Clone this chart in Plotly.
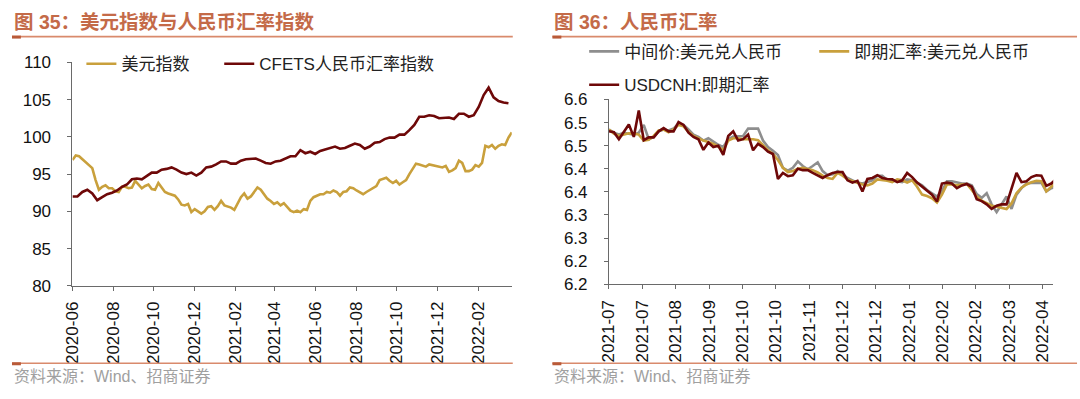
import pandas as pd
import plotly.graph_objects as go

# ---------------- Data: left panel (图35) ----------------
dxy_start, dxy_end = "2020-06-01", "2022-03-23"
dxy_values = [
    96.9, 97.5, 97.4, 97.0, 96.6, 96.3, 95.8, 94.2, 92.9, 93.3,
    93.5, 93.1, 93.1, 92.7, 92.6, 93.3, 93.3, 93.1, 93.2, 94.1,
    93.6, 93.1, 93.4, 93.6, 93.0, 92.9, 93.8, 93.2, 92.6, 92.4,
    92.3, 92.1, 91.6, 90.9, 90.8, 91.0, 89.9, 90.3, 90.0, 89.7,
    90.0, 90.6, 90.7, 90.2, 90.7, 91.4, 90.8, 90.7, 90.5, 90.2,
    91.0, 91.9, 92.4, 91.7, 92.0, 92.6, 93.2, 92.9, 92.3, 91.7,
    91.4, 91.0, 91.2, 90.8, 91.1, 90.6, 90.1, 89.9, 90.1, 89.9,
    90.3, 90.2, 91.4, 91.9, 92.1, 92.3, 92.3, 92.6, 92.5, 92.8,
    92.6, 92.1, 92.6, 92.7, 93.2, 93.1, 92.8, 92.5, 92.3, 92.6,
    92.9, 93.2, 93.4, 94.2, 94.3, 94.5, 94.1, 93.8, 94.1, 93.6,
    93.9, 94.2, 95.0, 95.8, 96.4, 96.3, 96.1, 96.0, 96.3, 96.2,
    96.2, 96.1, 95.9, 96.1, 95.3, 95.5, 95.8, 96.8, 96.5, 95.4,
    95.4, 95.6, 96.2, 96.0, 96.5, 98.8, 98.6, 98.9, 98.4, 98.8,
    99.0, 98.9, 99.9, 100.6,
]
cfets_start, cfets_end = "2020-06-01", "2022-03-18"
cfets_values = [
    92.0, 92.0, 92.6, 92.9, 92.4, 91.5, 91.9, 92.3, 92.5, 92.8,
    93.3, 93.6, 94.3, 94.4, 94.3, 94.7, 95.2, 95.2, 95.6, 95.7,
    95.9, 95.6, 95.2, 95.0, 95.2, 94.8, 95.2, 95.9, 96.0, 96.3,
    96.7, 96.7, 96.4, 96.4, 96.8, 97.0, 97.0, 97.1, 96.8, 96.5,
    96.4, 96.7, 96.8, 97.1, 97.4, 97.4, 98.2, 97.8, 98.0, 97.7,
    98.1, 98.3, 98.5, 98.7, 98.4, 98.5, 98.8, 99.1, 98.9, 98.4,
    98.7, 99.2, 99.3, 99.7, 99.9, 99.9, 100.3, 100.3, 100.9, 101.6,
    102.7, 102.7, 102.9, 102.8, 102.5, 102.6, 102.6, 102.4, 103.1, 103.1,
    102.7, 102.9, 104.0, 105.6, 106.6, 105.3, 104.8, 104.6, 104.5,
]
left_series_names = ["美元指数", "CFETS人民币汇率指数"]

# ---------------- Data: right panel (图36) ----------------
fx_start, fx_end = "2021-07-01", "2022-04-22"
fixing_values = [
    6.485, 6.478, 6.474, 6.478, 6.476, 6.474, 6.478, 6.495, 6.464, 6.469,
    6.481, 6.485, 6.483, 6.487, 6.498, 6.495, 6.485, 6.474, 6.469, 6.461,
    6.466, 6.459, 6.452, 6.447, 6.464, 6.470, 6.471, 6.471, 6.487, 6.487,
    6.487, 6.461, 6.447, 6.439, 6.430, 6.402, 6.396, 6.402, 6.416, 6.406,
    6.399, 6.406, 6.414, 6.395, 6.386, 6.388,
    6.395, 6.388, 6.380, 6.375, 6.370, 6.368, 6.371, 6.375, 6.385, 6.385,
    6.375, 6.375, 6.373, 6.371, 6.377, 6.375, 6.370, 6.364, 6.354, 6.347,
    6.340, 6.351, 6.373, 6.373, 6.371, 6.368, 6.368, 6.364, 6.345, 6.337,
    6.347, 6.323, 6.306, 6.323, 6.340, 6.313, 6.344, 6.358, 6.368, 6.369,
    6.370, 6.370, 6.351, 6.358, 6.361,
]
spot_values = [
    6.485, 6.476, 6.471, 6.474, 6.477, 6.476, 6.474, 6.461, 6.463, 6.471,
    6.483, 6.485, 6.479, 6.485, 6.495, 6.492, 6.480, 6.471, 6.466, 6.461,
    6.458, 6.454, 6.448, 6.440, 6.461, 6.466, 6.466, 6.464, 6.464, 6.464,
    6.462, 6.450, 6.440, 6.432, 6.419, 6.402, 6.393, 6.395, 6.400, 6.402,
    6.399, 6.397, 6.392, 6.385, 6.380, 6.378,
    6.391, 6.385, 6.377, 6.373, 6.369, 6.366, 6.364, 6.368, 6.377, 6.376,
    6.374, 6.371, 6.377, 6.375, 6.370, 6.375, 6.361, 6.344, 6.341, 6.336,
    6.327, 6.344, 6.366, 6.366, 6.364, 6.366, 6.367, 6.354, 6.340, 6.331,
    6.325, 6.320, 6.318, 6.315, 6.313, 6.325, 6.347, 6.359, 6.366, 6.371,
    6.374, 6.373, 6.351, 6.361, 6.370,
]
cnh_values = [
    6.481, 6.479, 6.464, 6.481, 6.496, 6.469, 6.526, 6.462, 6.468, 6.468,
    6.481, 6.488, 6.481, 6.481, 6.501, 6.495, 6.478, 6.469, 6.464, 6.441,
    6.457, 6.447, 6.450, 6.430, 6.471, 6.481, 6.461, 6.464, 6.474, 6.440,
    6.454, 6.447, 6.437, 6.432, 6.378, 6.391, 6.384, 6.386, 6.400, 6.397,
    6.397, 6.391, 6.385, 6.380, 6.386, 6.391,
    6.393, 6.393, 6.375, 6.370, 6.374, 6.351, 6.378, 6.380, 6.386, 6.380,
    6.378, 6.377, 6.371, 6.375, 6.391, 6.382, 6.370, 6.361, 6.354, 6.344,
    6.329, 6.368, 6.370, 6.368, 6.358, 6.364, 6.367, 6.361, 6.334, 6.330,
    6.323, 6.313, 6.320, 6.323, 6.323, 6.358, 6.391, 6.371, 6.373, 6.382,
    6.386, 6.385, 6.363, 6.368, 6.378,
]
right_series_names = ["中间价:美元兑人民币", "即期汇率:美元兑人民币", "USDCNH:即期汇率"]

right_tick_dates = pd.date_range("2021-07-01", periods=14, freq="22D")
right_tick_text = ["2021-07", "2021-07", "2021-08", "2021-09", "2021-10", "2021-10",
                   "2021-11", "2021-12", "2021-12", "2022-01", "2022-02", "2022-02",
                   "2022-03", "2022-04"]
right_y_ticks = [6.15, 6.20, 6.25, 6.30, 6.35, 6.40, 6.45, 6.50, 6.55]
right_y_text = ["6.2", "6.2", "6.3", "6.3", "6.4", "6.4", "6.5", "6.5", "6.6"]

titles = ["图 35：美元指数与人民币汇率指数", "图 36：人民币汇率"]
source_text = "资料来源：Wind、招商证券"

# ---------------- Styling ----------------
W, H = 1080, 399
GOLD = "#C9A03C"
DARKRED = "#6E0808"
GRAY = "#8E8E8E"
TITLE_C = "#C46A48"
RULE_C = "#D98A6C"
AX_C = "#6a6a6a"
FONT = "Liberation Sans, Arial, Noto Sans CJK SC, sans-serif"

def px_x(p):
    return p / W

def px_y(p):
    return (H - p) / H

dxy_dates = pd.date_range(dxy_start, dxy_end, periods=len(dxy_values))
cfets_dates = pd.date_range(cfets_start, cfets_end, periods=len(cfets_values))
fx_dates = pd.date_range(fx_start, fx_end, periods=len(cnh_values))

fig = go.Figure()
fig.add_trace(go.Scatter(x=dxy_dates, y=dxy_values, name=left_series_names[0], mode="lines",
                         line=dict(color=GOLD, width=2.6), xaxis="x", yaxis="y", legend="legend"))
fig.add_trace(go.Scatter(x=cfets_dates, y=cfets_values, name=left_series_names[1], mode="lines",
                         line=dict(color=DARKRED, width=2.6), xaxis="x", yaxis="y", legend="legend4"))
fig.add_trace(go.Scatter(x=fx_dates, y=fixing_values, name=right_series_names[0], mode="lines",
                         line=dict(color=GRAY, width=2.6), xaxis="x2", yaxis="y2", legend="legend2"))
fig.add_trace(go.Scatter(x=fx_dates, y=spot_values, name=right_series_names[1], mode="lines",
                         line=dict(color=GOLD, width=2.6), xaxis="x2", yaxis="y2", legend="legend5"))
fig.add_trace(go.Scatter(x=fx_dates, y=cnh_values, name=right_series_names[2], mode="lines",
                         line=dict(color=DARKRED, width=2.6), xaxis="x2", yaxis="y2", legend="legend3"))

axis_common = dict(showline=True, linecolor=AX_C, linewidth=1, showgrid=False, zeroline=False,
                   ticks="outside", ticklen=4, tickcolor=AX_C,
                   tickfont=dict(family=FONT, size=17, color="#111"))

legend_common = dict(orientation="h", bgcolor="rgba(0,0,0,0)", borderwidth=0,
                     font=dict(family=FONT, size=17, color="#222"),
                     yanchor="middle", xanchor="left", itemwidth=30)

fig.update_layout(
    width=W, height=H, autosize=False,
    margin=dict(l=0, r=0, t=0, b=0),
    paper_bgcolor="white", plot_bgcolor="white",
    showlegend=True,
    xaxis=dict(axis_common, domain=[px_x(64), px_x(507)], anchor="y", type="date",
               range=[dxy_start, dxy_end], tick0="2020-06-01", dtick="M2",
               tickformat="%Y-%m", tickangle=-90, ticklabelstandoff=4),
    yaxis=dict(axis_common, domain=[px_y(290.7), px_y(56)], anchor="x",
               range=[80, 110], dtick=5, ticklabelstandoff=13),
    xaxis2=dict(axis_common, domain=[px_x(605), px_x(1053)], anchor="y2", type="date",
                range=["2021-07-01", "2022-04-20"], tickmode="array",
                tickvals=right_tick_dates, ticktext=right_tick_text,
                tickangle=-90, ticklabelstandoff=4),
    yaxis2=dict(axis_common, domain=[px_y(289), px_y(95)], anchor="x2",
                range=[6.15, 6.55], tickmode="array", tickvals=right_y_ticks,
                ticktext=right_y_text, ticklabelstandoff=13),
    legend=dict(legend_common, x=px_x(73), y=px_y(58)),
    legend4=dict(legend_common, x=px_x(212), y=px_y(58)),
    legend2=dict(legend_common, x=px_x(580), y=px_y(45)),
    legend5=dict(legend_common, x=px_x(812), y=px_y(45)),
    legend3=dict(legend_common, x=px_x(580), y=px_y(80)),
)

shapes = []
for (a, b) in [(3, 508), (548, 1077)]:
    shapes.append(dict(type="line", xref="paper", yref="paper", x0=px_x(a), x1=px_x(b),
                       y0=px_y(29), y1=px_y(29), line=dict(color=RULE_C, width=1.6)))
    shapes.append(dict(type="line", xref="paper", yref="paper", x0=px_x(a), x1=px_x(a + 9),
                       y0=px_y(29.5), y1=px_y(29.5), line=dict(color="#B95A38", width=3)))
    shapes.append(dict(type="line", xref="paper", yref="paper", x0=px_x(a), x1=px_x(b),
                       y0=px_y(372), y1=px_y(372), line=dict(color=RULE_C, width=1.6)))
    shapes.append(dict(type="line", xref="paper", yref="paper", x0=px_x(a), x1=px_x(a + 9),
                       y0=px_y(372.5), y1=px_y(372.5), line=dict(color="#B95A38", width=3)))
fig.update_layout(shapes=shapes)

annotations = []
for (a, t) in [(3, titles[0]), (548, titles[1])]:
    annotations.append(dict(text="<b>" + t + "</b>", xref="paper", yref="paper",
                            x=px_x(a), y=px_y(14), xanchor="left", yanchor="middle",
                            showarrow=False, font=dict(family=FONT, size=19.5, color=TITLE_C)))
    annotations.append(dict(text=source_text, xref="paper", yref="paper",
                            x=px_x(a), y=px_y(386), xanchor="left", yanchor="middle",
                            showarrow=False, font=dict(family=FONT, size=16, color="#A0A0A0")))
fig.update_layout(annotations=annotations)

fig.write_html("out.html", config={"displayModeBar": False},
               post_script="document.body.style.margin='0';document.body.style.overflow='hidden';")
